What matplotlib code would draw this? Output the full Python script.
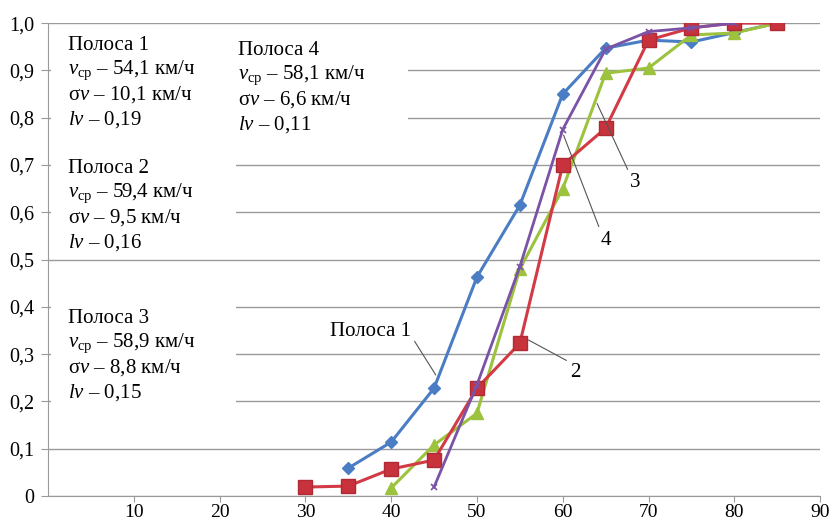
import matplotlib.pyplot as plt
from matplotlib.patches import Rectangle

plt.rcParams.update({
    'font.family': ['Liberation Serif', 'DejaVu Serif'],
    'font.size': 15,
    'mathtext.fontset': 'custom',
    'mathtext.rm': 'Liberation Serif',
    'mathtext.it': 'Liberation Serif:italic',
})

# скорость, км/ч
x1 = [35, 40, 45, 50, 55, 60, 65, 70, 75, 80, 85]
y1 = [0.059, 0.114, 0.228, 0.463, 0.615, 0.85, 0.947, 0.964, 0.96, 0.98, 1.0]

x2 = [30, 35, 40, 45, 50, 55, 60, 65, 70, 75, 80, 85]
y2 = [0.019, 0.021, 0.057, 0.076, 0.228, 0.323, 0.70, 0.778, 0.964, 0.99, 1.0, 1.0]

x3 = [40, 45, 50, 55, 60, 65, 70, 75, 80, 85]
y3 = [0.017, 0.108, 0.175, 0.48, 0.65, 0.894, 0.905, 0.975, 0.979, 1.0]

x4 = [45, 50, 55, 60, 65, 70, 75, 80]
y4 = [0.019, 0.235, 0.485, 0.775, 0.945, 0.982, 0.99, 1.0]

yticks = [0, 0.1, 0.2, 0.3, 0.4, 0.5, 0.6, 0.7, 0.8, 0.9, 1.0]
ylabels = ['0', '0,1', '0,2', '0,3', '0,4', '0,5', '0,6', '0,7', '0,8', '0,9', '1,0']
xticks = [10, 20, 30, 40, 50, 60, 70, 80, 90]

fig = plt.figure(figsize=(8.32, 5.25), dpi=100)
ax = fig.add_axes([0.0577, 0.0552, 0.9280, 0.9008])
ax.set_xlim(0, 90)
ax.set_ylim(0, 1.0)

ax.set_yticks(yticks)
ax.set_yticklabels(ylabels)
ax.set_xticks(xticks)
ax.yaxis.grid(True, color='#9a9a9a', lw=1.0)
ax.set_axisbelow(True)
for s in ['top', 'right']:
    ax.spines[s].set_visible(False)
for s in ['left', 'bottom']:
    ax.spines[s].set_color('#9a9a9a')
ax.tick_params(colors='#9a9a9a', labelcolor='black', length=5, labelsize=14.5)
ax.tick_params(axis='y', pad=5)
ax.tick_params(axis='x', length=4, pad=2, labelsize=14)

# white boxes behind the text blocks
for (bx, by, bw, bh) in [(0.3, 0.76, 21.6, 0.225), (21.9, 0.75, 20.1, 0.23),
                         (0.3, 0.525, 21.6, 0.215), (0.3, 0.17, 21.6, 0.25)]:
    ax.add_patch(Rectangle((bx, by), bw, bh, facecolor='white', edgecolor='none', zorder=1))

ax.plot(x1, y1, color='#4a7dc4', lw=2.2, marker='D', ms=6, zorder=3)
ax.plot(x3, y3, color='#9cc23e', lw=2.2, marker='^', ms=8, zorder=3)
ax.plot(x2, y2, color='#d23a45', lw=2.2, marker='s', ms=10, mfc='#c8323c', mec='#b02a35', zorder=4)
ax.plot(x4, y4, color='#7a52a6', lw=2.0, marker='x', ms=5, mew=1.2, zorder=5)

blocks = [
    (2.3, 0.952, ['Полоса 1', r'$v_{\mathrm{ср}}$ – 54,1 км/ч', r'σ$v$ – 10,1 км/ч', r'$lv$ – 0,19']),
    (2.3, 0.692, ['Полоса 2', r'$v_{\mathrm{ср}}$ – 59,4 км/ч', r'σ$v$ – 9,5 км/ч', r'$lv$ – 0,16']),
    (2.3, 0.375, ['Полоса 3', r'$v_{\mathrm{ср}}$ – 58,9 км/ч', r'σ$v$ – 8,8 км/ч', r'$lv$ – 0,15']),
    (22.1, 0.942, ['Полоса 4', r'$v_{\mathrm{ср}}$ – 58,1 км/ч', r'σ$v$ – 6,6 км/ч', r'$lv$ – 0,11']),
]
for bx, by, lines in blocks:
    for i, t in enumerate(lines):
        ax.text(bx, by - i * 0.052, t, ha='left', va='center', zorder=6)

lead = dict(arrowstyle='-', color='#555555', lw=0.8, shrinkA=1, shrinkB=0)
ax.annotate('Полоса 1', xy=(45.2, 0.256), xytext=(37.6, 0.347), ha='center', va='center',
            arrowprops=dict(lead, relpos=(1.0, 0.3)), zorder=6)
ax.annotate('2', xy=(56.0, 0.33), xytext=(61.5, 0.262), ha='center', va='center',
            arrowprops=dict(lead, relpos=(0.0, 1.0)), zorder=6)
ax.annotate('3', xy=(64.0, 0.83), xytext=(68.4, 0.662), ha='center', va='center',
            arrowprops=dict(lead, relpos=(0.0, 1.0)), zorder=6)
ax.annotate('4', xy=(60.1, 0.763), xytext=(65.0, 0.541), ha='center', va='center',
            arrowprops=dict(lead, relpos=(0.0, 1.0)), zorder=6)

fig.savefig('out.png', dpi=100)
